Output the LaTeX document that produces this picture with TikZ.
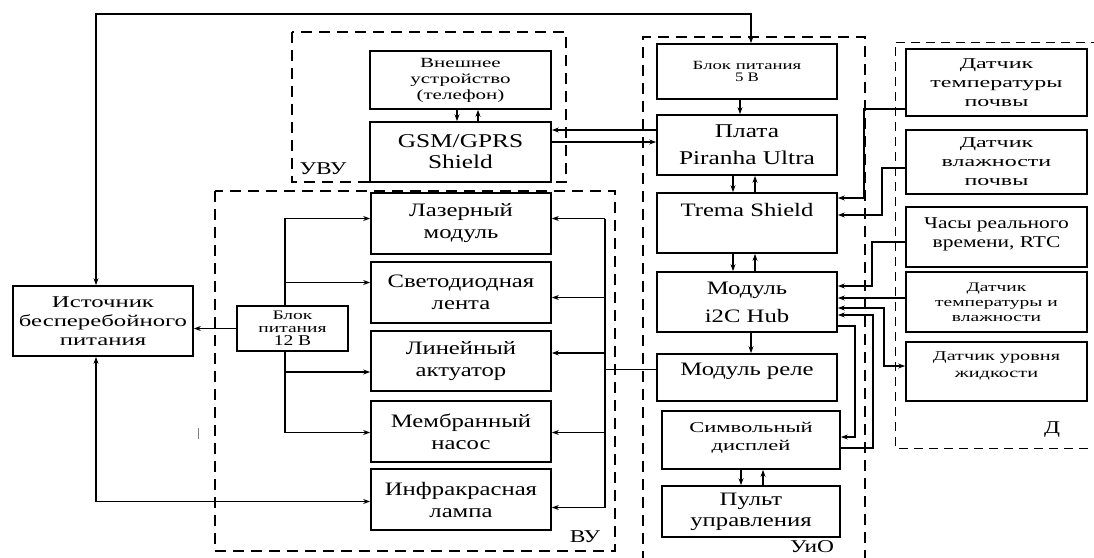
\documentclass[tikz,border=0pt]{standalone}
\usepackage{fontspec}
\setmainfont{Liberation Serif}[FakeStretch=1.3]
\newfontfamily\wide{Liberation Serif}[FakeStretch=1.5]
\newfontfamily\wider{Liberation Serif}[FakeStretch=1.6]
\usepackage{tikz}
\usetikzlibrary{arrows.meta, positioning, calc}

\begin{document}
\begin{tikzpicture}[x=1pt, y=-1pt,
	box/.style={draw, line width=1.7pt, align=center, inner sep=1pt, font=\fontsize{19}{22}\selectfont},
	sbox/.style={box, font=\wide\fontsize{14}{16}\selectfont},
	grp/.style={draw, dashed, line width=1.7pt, dash pattern=on 11pt off 7pt},
	lbl/.style={font=\fontsize{18}{20}\selectfont, inner sep=0pt},
	line/.style={line width=1.3pt},
	arr/.style={line, -{Stealth[length=7pt, width=5pt]}},
	arrb/.style={line, {Stealth[length=7pt, width=5pt]}-{Stealth[length=7pt, width=5pt]}}]
	\useasboundingbox (0,0) rectangle (1094,557);

	% группы
	\draw[grp] (292,32) rectangle (566,182);
	\draw[grp] (215,191) rectangle (615,551);
	\draw[grp] (643,562) -- (643,37) -- (865,37) -- (865,562);
	\draw[grp, line width=1pt, dash pattern=on 9pt off 6pt] (1100,42) -- (895,42) -- (895,448) -- (1100,448);
	\node[lbl] (luvu) at (323,169) {УВУ};
	\node[lbl] (lvu) at (585,537) {ВУ};
	\node[lbl] (luio) at (812,547) {УиО};
	\node[lbl] (ld) at (1052,430) {Д};

	% питание
	\node[box, minimum width=180, minimum height=70, font=\wide\fontsize{16.5}{19}\selectfont] (ibp) at (103,321) {Источник\\бесперебойного\\питания};
	\node[box, minimum width=111, minimum height=45, inner sep=0pt, font=\wide\fontsize{13}{13}\selectfont] (bp12) at (292.5,328.5) {Блок\\питания\\{\normalfont\fontsize{15}{13}\selectfont 12 В}};

	% ВУ
	\node[box, minimum width=180, minimum height=61] (laser) at (461,223.5) {Лазерный\\модуль};
	\node[box, minimum width=180, minimum height=61] (led) at (461,292.5) {Светодиодная\\лента};
	\node[box, minimum width=180, minimum height=60] (act) at (461,361) {Линейный\\актуатор};
	\node[box, minimum width=180, minimum height=61] (pump) at (461,431.5) {Мембранный\\насос};
	\node[box, minimum width=180, minimum height=61] (lamp) at (461,499.5) {Инфракрасная\\лампа};

	% УВУ
	\node[sbox, minimum width=181, minimum height=58] (ext) at (460.5,80) {Внешнее\\устройство\\(телефон)};
	\node[box, minimum width=181, minimum height=60, font=\fontsize{19.5}{21}\selectfont] (gsm) at (460.5,152) {GSM/GPRS\\Shield};

	% УиО
	\node[box, minimum width=180, minimum height=55, font=\wide\fontsize{12.5}{12}\selectfont] (bp5) at (747,71.5) {Блок питания\\{\normalfont\fontsize{13}{12}\selectfont 5 В}};
	\node[box, minimum width=180, minimum height=60, font=\fontsize{19.5}{21}\selectfont] (plata) at (747,145) {Плата\\[6pt]Piranha Ultra};
	\node[box, minimum width=180, minimum height=60] (trema) at (747,223) {Trema Shield\\[-2pt]\strut};
	\node[box, minimum width=180, minimum height=60] (hub) at (747,302) {Модуль\\[6pt]i2C Hub};
	\node[box, minimum width=180, minimum height=47] (rele) at (747,377.5) {Модуль реле\\[-12pt]\strut};
	\node[sbox, minimum width=178, minimum height=58, font=\wide\fontsize{15}{18}\selectfont] (disp) at (751,440) {Символьный\\дисплей\\[-11pt]};
	\node[box, minimum width=178, minimum height=51, font=\fontsize{19}{21}\selectfont] (pult) at (751,511.5) {Пульт\\управления};

	% Д
	\node[sbox, minimum width=181, minimum height=67, font=\wider\fontsize{15}{19}\selectfont] (dtp) at (996.5,82.5) {Датчик\\температуры\\почвы};
	\node[sbox, minimum width=181, minimum height=64, font=\wider\fontsize{15}{19}\selectfont] (dvp) at (996.5,162) {Датчик\\влажности\\почвы};
	\node[box, minimum width=181, minimum height=60, font=\fontsize{16.5}{19}\selectfont] (rtc) at (996.5,237) {Часы реального\\времени, RTC\\[-10pt]};
	\node[sbox, minimum width=181, minimum height=60, font=\wide\fontsize{13}{15}\selectfont] (dtv) at (996.5,302) {Датчик\\температуры и\\влажности};
	\node[sbox, minimum width=181, minimum height=59, font=\wide\fontsize{13.5}{17}\selectfont] (dul) at (996.5,371.5) {Датчик уровня\\жидкости\\[-4pt]};

	\coordinate (b12) at (285,0);
	\coordinate (vb) at (605,0);

	% связи питания
	\draw[arrb] ([xshift=-7pt]ibp.north) |- (751,14) -- ([xshift=4pt]bp5.north);
	\draw[arr] (bp12.west) -- (bp12.west -| ibp.east);
	\draw[arrb] ([xshift=-7pt]ibp.south) |- ([yshift=-2pt]lamp.west);
	\draw[arr] (b12 |- bp12.north) |- ([yshift=5pt]laser.west);
	\draw[arr] ([yshift=10pt]led.west -| b12) -- ([yshift=10pt]led.west);
	\draw[arr] (b12 |- bp12.south) |- ([yshift=-11pt]act.west);
	\draw[arr] ([yshift=-11pt]act.west -| b12) |- ([yshift=-1pt]pump.west);

	% реле -> ВУ
	\draw[line] ([yshift=8pt]rele.west) -- ([yshift=8pt]rele.west -| vb);
	\draw[line] ([yshift=5pt]laser.east -| vb) -- ([yshift=-8pt]lamp.east -| vb);
	\draw[arr] ([yshift=5pt]laser.east -| vb) -- ([yshift=5pt]laser.east);
	\draw[arr] ([yshift=-5pt]led.east -| vb) -- ([yshift=-5pt]led.east);
	\draw[arr] ([yshift=8pt]act.east -| vb) -- ([yshift=8pt]act.east);
	\draw[arr] ([yshift=-1pt]pump.east -| vb) -- ([yshift=-1pt]pump.east);
	\draw[arr] ([yshift=-8pt]lamp.east -| vb) -- ([yshift=-8pt]lamp.east);

	% УВУ <-> УиО
	\draw[arr] ([xshift=-3.5pt]ext.south) -- ([xshift=-3.5pt]gsm.north);
	\draw[arr] ([xshift=17.5pt]gsm.north) -- ([xshift=17.5pt]ext.south);
	\draw[arr] ([yshift=15pt]plata.west) -- ([yshift=15pt]plata.west -| gsm.east);
	\draw[arr] ([yshift=10pt]gsm.east) -- ([yshift=10pt]gsm.east -| plata.west);

	% внутри УиО
	\draw[arr] ([xshift=-7pt]bp5.south) -- ([xshift=-7pt]plata.north);
	\draw[arr] ([xshift=-14pt]plata.south) -- ([xshift=-14pt]trema.north);
	\draw[arr] ([xshift=8pt]trema.north) -- ([xshift=8pt]plata.south);
	\draw[arr] ([xshift=-14pt]trema.south) -- ([xshift=-14pt]hub.north);
	\draw[arr] ([xshift=8pt]hub.north) -- ([xshift=8pt]trema.south);
	\draw[arr] ([xshift=4pt]hub.south) -- ([xshift=4pt]rele.north);
	\draw[arr] ([xshift=-10pt]disp.south) -- ([xshift=-10pt]pult.north);
	\draw[arr] ([xshift=12pt]pult.north) -- ([xshift=12pt]disp.south);

	% датчики
	\draw[arr] ([yshift=-26.5pt]dtp.west) -| (864,198) -- ([yshift=25pt]trema.east);
	\draw[arr] ([yshift=-6pt]dvp.west) -| (882,215) -- ([yshift=8pt]trema.east);
	\draw[arr] ([yshift=-5pt]rtc.west) -| (872,286) -- ([yshift=16pt]hub.east);
	\draw[arr] ([yshift=4pt]dtv.west) -- ([yshift=4pt]dtv.west -| hub.east);
	\draw[arrb] ([yshift=-6pt]hub.east) -| (884,366) -- ([yshift=5.5pt]dul.west);
	\draw[arr] ([yshift=-8pt]disp.east) -| (873,315) -- ([yshift=-13pt]hub.east);
	\draw[arr] ([yshift=-24pt]hub.east) -| (855,437) -- ([yshift=3pt]disp.east);

	\draw[gray, line width=0.8pt] (198,428) -- (198,439);
\end{tikzpicture}
\end{document}
